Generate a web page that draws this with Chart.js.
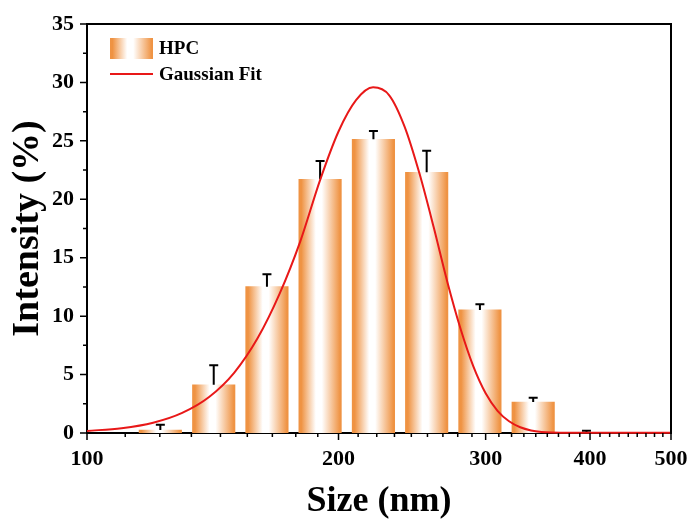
<!DOCTYPE html>
<html>
<head>
<meta charset="utf-8">
<script src="https://cdn.jsdelivr.net/npm/chart.js@4.4.1/dist/chart.umd.min.js"></script>
<style>
  html, body { margin: 0; padding: 0; background: #fff; }
</style>
</head>
<body>
<canvas id="c" width="691" height="521"></canvas>
<script>
// Size distribution (DLS bins) with measured intensity and its upper error
const sizeBins     = [122.4, 141.8, 164.2, 190.1, 220.2, 255.0, 295.3, 342.0, 396.1];
const intensity    = [0.25, 4.13, 12.52, 21.71, 25.13, 22.31, 10.53, 2.65, 0.05];
const intensityErr = [0.45, 1.66, 1.06, 1.57, 0.71, 1.85, 0.48, 0.37, 0.15];

// Gaussian fit curve, sampled points
const fitSize      = [100, 110, 120, 130, 140, 150, 160, 170, 180, 190, 200, 210, 220, 230, 240,
                      250, 260, 270, 280, 290, 300, 310, 320, 330, 340, 350, 360, 380, 400, 450, 500];
const fitIntensity = [0.18, 0.41, 0.88, 1.72, 3.08, 5.15, 8.1, 11.9, 16.4, 21.6, 25.8, 28.5, 29.58, 28.9, 26.2,
                      22.2, 17.6, 12.9, 8.9, 5.7, 3.4, 1.9, 1.0, 0.49, 0.22, 0.09, 0.04, 0.02, 0.02, 0.02, 0.02];

// Axis tick labels
const xTickLabels = [100, 200, 300, 400, 500];
const yTickLabels = [0, 5, 10, 15, 20, 25, 30, 35];

const seriesLabels = ['HPC', 'Gaussian Fit'];

const ORANGE = '#EF9343';
const RED = '#E81818';
const BAR_W = 42.5;
const FONT = 'Liberation Serif';

function barGradient(ctx, x0, x1) {
  const g = ctx.createLinearGradient(x0, 0, x1, 0);
  g.addColorStop(0, ORANGE);
  g.addColorStop(0.06, ORANGE);
  g.addColorStop(0.4, '#FFFFFF');
  g.addColorStop(0.54, '#FFFFFF');
  g.addColorStop(0.97, ORANGE);
  g.addColorStop(1, ORANGE);
  return g;
}

// Upward error bars with a cap, drawn right after the bars
const errorBars = {
  id: 'errorBars',
  afterDatasetDraw(chart, args) {
    if (args.index !== 1) return;
    const { ctx, scales: { x, y } } = chart;
    ctx.save();
    ctx.strokeStyle = '#000';
    ctx.lineWidth = 2;
    sizeBins.forEach((s, i) => {
      const px = x.getPixelForValue(s);
      const y0 = y.getPixelForValue(intensity[i]);
      const y1 = y.getPixelForValue(intensity[i] + intensityErr[i]);
      ctx.beginPath();
      ctx.moveTo(px, y0);
      ctx.lineTo(px, y1);
      ctx.moveTo(px - 4.5, y1);
      ctx.lineTo(px + 4.5, y1);
      ctx.stroke();
    });
    ctx.restore();
  }
};

// Outward major/minor tick marks and the top/right frame
const axisFrame = {
  id: 'axisFrame',
  afterDraw(chart) {
    const { ctx, chartArea: a, scales: { x, y } } = chart;
    ctx.save();
    ctx.strokeStyle = '#000';
    ctx.lineWidth = 2;
    ctx.beginPath();
    ctx.moveTo(a.left - 1, a.top);
    ctx.lineTo(a.right, a.top);
    ctx.lineTo(a.right, a.bottom + 1);
    ctx.stroke();

    ctx.lineWidth = 1.5;
    ctx.beginPath();
    // y axis
    for (let i = 0; i < yTickLabels.length; i++) {
      const py = y.getPixelForValue(yTickLabels[i]);
      ctx.moveTo(a.left, py); ctx.lineTo(a.left - 7, py);
      if (i < yTickLabels.length - 1) {
        const pm = y.getPixelForValue((yTickLabels[i] + yTickLabels[i + 1]) / 2);
        ctx.moveTo(a.left, pm); ctx.lineTo(a.left - 4, pm);
      }
    }
    // x axis
    for (let i = 0; i < xTickLabels.length; i++) {
      const px = x.getPixelForValue(xTickLabels[i]);
      ctx.moveTo(px, a.bottom); ctx.lineTo(px, a.bottom + 7);
      if (i < xTickLabels.length - 1) {
        const step = (xTickLabels[i + 1] - xTickLabels[i]) / 9;
        for (let k = 1; k < 9; k++) {
          const pm = x.getPixelForValue(xTickLabels[i] + k * step);
          ctx.moveTo(pm, a.bottom); ctx.lineTo(pm, a.bottom + 4);
        }
      }
    }
    ctx.stroke();
    ctx.restore();
  }
};

// Legend in the upper-left corner of the plot
const insetLegend = {
  id: 'insetLegend',
  afterDraw(chart) {
    const { ctx, chartArea: a } = chart;
    const x0 = a.left + 23, w = 43;
    ctx.save();
    ctx.fillStyle = barGradient(ctx, x0, x0 + w);
    ctx.fillRect(x0, 38, w, 21);
    ctx.strokeStyle = RED;
    ctx.lineWidth = 2;
    ctx.beginPath();
    ctx.moveTo(x0, 74);
    ctx.lineTo(x0 + w, 74);
    ctx.stroke();
    ctx.fillStyle = '#000';
    ctx.font = 'bold 19px "' + FONT + '"';
    ctx.textBaseline = 'middle';
    ctx.fillText(chart.data.datasets[1].label, x0 + w + 6, 49);
    ctx.fillText(chart.data.datasets[0].label, x0 + w + 6, 75);
    ctx.restore();
  }
};

new Chart(document.getElementById('c'), {
  type: 'bar',
  data: {
    datasets: [
      {
        type: 'line',
        label: seriesLabels[1],
        data: fitSize.map((s, i) => ({ x: s, y: fitIntensity[i] })),
        borderColor: RED,
        borderWidth: 2,
        pointRadius: 0,
        cubicInterpolationMode: 'monotone',
        fill: false,
        clip: 4,
        order: 0
      },
      {
        type: 'bar',
        label: seriesLabels[0],
        data: sizeBins.map((s, i) => ({ x: s, y: intensity[i] })),
        barThickness: BAR_W,
        borderWidth: 0,
        backgroundColor: (c) => {
          const xs = c.chart.scales && c.chart.scales.x;
          if (c.type !== 'data' || !xs || !c.raw) return ORANGE;
          const cx = xs.getPixelForValue(c.raw.x);
          if (!isFinite(cx)) return ORANGE;
          return barGradient(c.chart.ctx, cx - BAR_W / 2, cx + BAR_W / 2);
        },
        order: 1
      }
    ]
  },
  options: {
    responsive: false,
    animation: false,
    devicePixelRatio: 1,
    layout: { padding: { top: 24, right: 20, left: 0, bottom: 0 } },
    plugins: { legend: { display: false }, tooltip: { enabled: false } },
    scales: {
      x: {
        type: 'logarithmic',
        min: 100,
        max: 500,
        offset: false,
        afterFit: (s) => { s.height = 88; s.paddingLeft = 0; s.paddingRight = 0; },
        afterBuildTicks: (s) => { s.ticks = xTickLabels.map(v => ({ value: v })); },
        grid: { display: false, drawTicks: false },
        border: { display: true, color: '#000', width: 2 },
        ticks: {
          color: '#000',
          padding: 13,
          maxRotation: 0,
          autoSkip: false,
          font: { family: FONT, size: 22, weight: 'bold' },
          callback: (v) => String(v)
        },
        title: {
          display: true,
          text: 'Size (nm)',
          color: '#000',
          font: { family: FONT, size: 36, weight: 'bold' },
          padding: { top: 0, bottom: -2 }
        }
      },
      y: {
        type: 'linear',
        min: 0,
        max: 35,
        afterFit: (s) => { s.width = 87; s.paddingTop = 0; s.paddingBottom = 0; },
        afterBuildTicks: (s) => { s.ticks = yTickLabels.map(v => ({ value: v })); },
        grid: { display: false, drawTicks: false },
        border: { display: true, color: '#000', width: 2 },
        ticks: {
          color: '#000',
          padding: 13,
          font: { family: FONT, size: 22, weight: 'bold' },
          callback: (v) => String(v)
        },
        title: {
          display: true,
          text: 'Intensity (%)',
          color: '#000',
          font: { family: FONT, size: 38, weight: 'bold' },
          padding: { top: 5, bottom: 0 }
        }
      }
    }
  },
  plugins: [errorBars, axisFrame, insetLegend]
});
</script>
</body>
</html>
